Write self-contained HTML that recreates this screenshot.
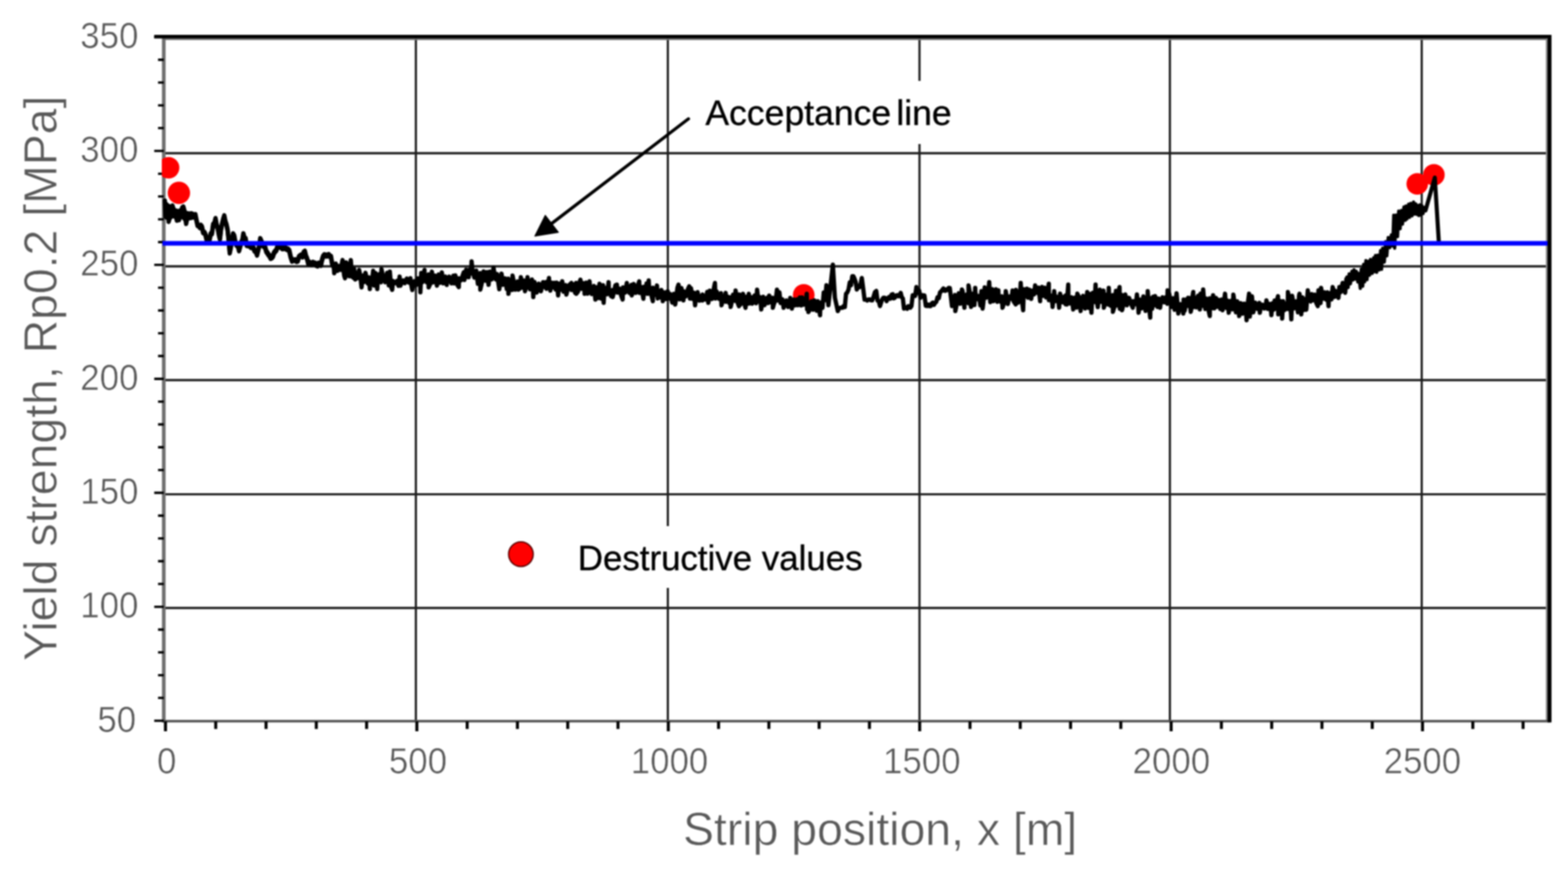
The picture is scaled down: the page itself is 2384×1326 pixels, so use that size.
<!DOCTYPE html>
<html><head><meta charset="utf-8"><title>Yield strength vs strip position</title>
<style>html,body{margin:0;padding:0;background:#fff;}svg{display:block;}svg{filter:blur(0.9px);}</style></head><body>
<svg width="2384" height="1326" viewBox="0 0 2384 1326">
<rect x="0" y="0" width="2384" height="1326" fill="#fff"/>
<defs><clipPath id="pa"><rect x="246" y="54" width="2110" height="1044"/></clipPath></defs>
<path d="M249 233.0H2355 M249 405.0H2355 M249 578.0H2355 M249 751.6H2355 M249 924.5H2355 M632.3 56V1096 M1015.4 56V1096 M1398.0 56V1096 M1778.7 56V1096 M2161.6 56V1096" stroke="#1c1c1c" stroke-width="3.3" fill="none"/>
<rect x="1060" y="123" width="400" height="96" fill="#fff"/>
<rect x="860" y="800" width="460" height="94" fill="#fff"/>
<path d="M2351.8 59.6V1096.6" stroke="#8a8a8a" stroke-width="3" fill="none"/>
<path d="M249 59.6H2352" stroke="#7a7a7a" stroke-width="2.6" fill="none"/>
<path d="M249 56V1098.4" stroke="#6e6e6e" stroke-width="5.5" fill="none"/>
<path d="M246.5 1096.6H2357" stroke="#505050" stroke-width="3.6" fill="none"/>
<path d="M234.5 1096.0H249 M240.3 1061.3H249 M240.3 1026.7H249 M240.3 992.0H249 M240.3 957.4H249 M234.5 922.7H249 M240.3 888.0H249 M240.3 853.4H249 M240.3 818.7H249 M240.3 784.1H249 M234.5 749.4H249 M240.3 714.7H249 M240.3 680.1H249 M240.3 645.4H249 M240.3 610.8H249 M234.5 576.1H249 M240.3 541.4H249 M240.3 506.8H249 M240.3 472.1H249 M240.3 437.5H249 M234.5 402.8H249 M240.3 368.1H249 M240.3 333.5H249 M240.3 298.8H249 M240.3 264.2H249 M234.5 229.5H249 M240.3 194.8H249 M240.3 160.2H249 M240.3 125.5H249 M240.3 90.9H249 M234.5 56.2H249" stroke="#000" stroke-width="3.6" fill="none"/>
<path d="M251.6 1097V1112 M328.0 1097V1108.6 M404.5 1097V1108.6 M480.9 1097V1108.6 M557.4 1097V1108.6 M633.8 1097V1112 M710.3 1097V1108.6 M786.7 1097V1108.6 M863.2 1097V1108.6 M939.6 1097V1108.6 M1016.1 1097V1112 M1092.5 1097V1108.6 M1169.0 1097V1108.6 M1245.4 1097V1108.6 M1321.9 1097V1108.6 M1398.3 1097V1112 M1474.8 1097V1108.6 M1551.2 1097V1108.6 M1627.7 1097V1108.6 M1704.1 1097V1108.6 M1780.6 1097V1112 M1857.0 1097V1108.6 M1933.5 1097V1108.6 M2009.9 1097V1108.6 M2086.4 1097V1108.6 M2162.8 1097V1112 M2239.3 1097V1108.6 M2315.7 1097V1108.6" stroke="#000" stroke-width="4.6" fill="none"/>
<path d="M234.5 55.8H2355.9" stroke="#000" stroke-width="5.6" fill="none"/>
<path d="M2355.9 53V1098.6" stroke="#000" stroke-width="6" fill="none"/>
<g fill="#ff0000" clip-path="url(#pa)"><circle cx="256.4" cy="255.1" r="16.3"/><circle cx="272" cy="293.2" r="17"/><circle cx="1222" cy="448.5" r="16.5"/><circle cx="2154.8" cy="279.6" r="16.4"/><circle cx="2180.1" cy="265.9" r="16.4"/></g>
<polyline points="250.6,304.9 251.5,329.8 253.1,330.8 254.8,331.8 256.4,334.8 258.3,328.7 260.3,316.0 262.2,312.4 263.9,317.9 265.5,321.6 267.2,324.1 268.9,333.1 270.5,332.7 272.2,332.3 273.9,324.1 275.5,322.6 277.1,315.2 278.8,314.0 280.9,322.1 283.0,338.1 285.5,324.8 287.2,324.7 288.8,325.9 290.5,324.2 292.1,324.6 293.8,325.8 295.4,326.8 297.1,325.7 298.8,334.1 300.4,341.4 302.0,341.7 303.7,344.2 305.4,341.8 307.0,343.9 308.9,352.2 310.8,352.4 312.6,356.4 314.5,364.6 316.6,362.7 318.6,363.0 320.4,354.4 322.2,354.1 324.1,340.3 325.9,338.8 327.7,331.5 329.4,340.8 331.0,345.3 332.7,355.0 334.4,362.1 336.0,347.8 337.7,339.0 339.4,332.2 341.0,327.3 342.7,335.8 344.3,340.5 346.0,348.0 347.6,363.1 349.3,382.9 351.0,374.4 352.6,363.6 354.3,354.7 356.1,357.7 357.9,367.6 359.8,371.6 361.6,372.1 363.4,379.6 365.0,374.1 366.7,367.4 368.4,364.6 370.0,354.7 371.7,360.8 373.4,361.8 375.0,371.4 376.7,372.1 378.4,371.5 380.0,373.1 381.6,374.8 383.3,374.6 385.2,375.5 387.1,380.3 388.9,380.6 390.8,386.2 392.4,379.8 394.1,372.7 395.7,362.1 397.6,366.4 399.6,372.0 401.5,373.7 403.2,375.2 404.8,381.0 406.5,383.2 408.2,386.0 409.8,387.9 411.5,391.2 413.1,390.5 414.8,388.6 416.5,383.6 418.1,381.2 420.1,379.2 422.0,373.5 424.0,372.9 425.7,374.3 427.4,374.7 429.1,376.6 430.9,376.6 432.6,375.1 434.3,376.1 436.0,377.8 437.7,377.8 439.8,380.0 441.9,389.2 444.0,395.4 445.8,394.6 447.5,394.5 449.3,394.3 451.0,396.0 452.8,395.4 454.6,389.2 456.4,387.8 458.1,386.8 459.9,389.0 461.7,382.8 463.5,381.3 465.2,388.3 467.0,392.5 468.7,399.4 470.5,398.0 472.2,399.8 474.0,400.4 475.8,398.1 477.5,399.1 479.2,399.2 481.0,402.0 482.8,402.7 484.5,399.3 486.2,399.8 488.0,401.7 489.7,393.6 491.4,388.6 493.1,386.6 494.8,387.0 496.5,387.8 498.1,386.9 499.8,386.3 501.5,388.4 503.2,389.1 505.0,399.9 507.6,407.6 508.2,415.6 510.5,400.7 513.2,411.9 514.9,404.5 517.9,410.4 520.8,395.4 521.0,400.9 523.3,419.2 524.6,423.1 526.1,399.0 527.7,418.3 529.5,401.3 531.1,420.1 532.9,399.3 533.4,395.4 535.2,420.7 538.4,423.1 538.4,408.9 540.2,425.0 542.4,414.8 544.2,422.9 546.0,410.5 547.6,418.2 549.7,437.0 550.1,433.9 551.8,419.1 553.8,428.8 554.8,418.1 555.7,414.9 559.1,431.1 560.9,421.7 562.3,439.5 562.4,432.9 565.9,424.0 567.4,411.8 568.8,434.3 571.0,415.2 573.6,439.5 574.0,431.7 577.1,416.6 579.1,429.3 580.0,409.3 582.5,420.6 585.6,429.2 588.6,414.9 591.1,433.9 592.7,413.0 594.8,436.9 596.3,440.7 597.6,427.3 600.0,430.9 603.5,427.3 605.7,434.6 607.6,420.6 607.7,423.5 608.9,434.4 609.6,432.5 612.9,426.4 615.4,430.6 618.5,423.5 621.3,429.6 624.0,423.1 624.4,428.6 626.8,441.0 629.9,427.6 633.0,433.4 635.3,423.2 638.7,430.8 639.1,444.5 640.5,415.0 642.3,429.2 645.4,410.5 645.4,416.3 648.6,429.1 651.4,417.2 651.7,437.0 654.0,432.1 655.5,421.4 656.7,413.1 658.3,429.6 661.7,419.0 664.3,434.4 664.9,427.8 666.9,417.4 668.9,430.1 671.6,418.0 671.8,414.3 674.0,430.9 677.3,420.5 679.3,433.2 679.7,428.5 683.0,420.7 686.3,430.8 688.9,423.5 689.4,419.3 690.4,431.1 692.3,418.7 695.4,433.4 697.6,436.6 697.8,423.2 700.5,426.5 703.0,420.1 705.1,414.0 706.1,425.8 708.7,410.1 710.7,421.1 712.6,421.5 713.3,410.2 716.3,415.5 717.0,397.6 718.7,413.2 721.2,422.2 724.1,411.5 726.6,431.5 730.0,415.2 730.3,440.4 733.3,427.2 735.3,419.3 735.3,412.7 738.7,426.9 740.4,413.8 742.8,433.1 742.9,432.8 744.8,412.9 747.6,424.9 750.4,407.0 750.9,411.0 753.9,424.9 755.7,416.7 759.1,439.7 762.5,416.1 765.0,433.0 768.1,423.4 770.5,439.4 772.7,423.7 773.0,446.7 774.8,435.5 776.4,425.8 778.7,440.9 779.3,419.0 780.9,427.2 783.4,440.5 786.9,428.1 788.2,440.4 790.3,438.8 791.9,421.5 792.4,424.0 795.4,437.8 797.2,426.6 798.2,442.9 800.5,435.3 802.0,421.5 802.5,425.5 805.9,440.0 808.8,425.0 810.4,439.1 810.8,451.7 812.7,428.8 816.1,444.9 819.2,431.3 822.4,442.9 825.6,429.2 825.9,429.1 827.8,435.5 830.9,439.1 831.2,428.5 832.9,435.6 834.7,422.8 834.9,428.5 836.7,441.9 838.6,429.7 840.8,436.9 842.8,430.2 844.7,440.1 846.2,429.7 847.8,440.9 848.6,449.2 850.4,431.3 852.8,440.5 854.5,435.2 854.8,427.8 856.9,443.5 860.1,433.5 861.1,448.0 862.6,442.0 866.0,432.9 868.7,430.3 869.2,441.1 872.0,432.3 874.2,444.9 875.9,430.3 876.2,446.7 878.9,443.2 880.7,430.4 882.5,425.3 883.9,439.2 886.8,430.5 888.7,442.7 888.8,446.7 891.2,429.7 893.5,446.5 896.4,427.8 897.0,437.2 899.6,447.2 903.0,434.9 905.2,455.5 905.2,454.9 907.5,436.8 910.0,453.2 911.5,431.6 912.5,433.4 914.5,454.2 916.8,433.7 917.8,460.5 918.4,450.4 920.3,437.7 922.9,447.5 925.3,429.1 925.7,439.1 929.0,450.4 931.1,441.1 931.6,451.7 932.9,446.2 935.7,433.7 937.9,432.8 938.9,445.0 941.6,438.8 944.7,450.3 946.7,455.5 947.3,437.0 950.5,445.0 953.0,430.3 953.6,436.6 956.9,445.4 959.8,433.2 960.5,449.2 961.4,446.2 963.6,431.9 966.7,445.4 969.5,434.9 971.9,427.8 972.4,445.4 973.9,435.8 976.9,447.2 978.2,454.2 979.4,436.1 981.1,446.5 983.1,431.0 985.1,446.8 986.3,426.6 987.0,438.9 990.5,449.5 992.6,458.0 992.7,437.4 995.6,448.6 998.3,438.7 998.9,434.1 1000.0,453.7 1002.0,445.0 1004.1,452.5 1005.6,441.0 1007.7,451.9 1007.7,458.0 1010.5,444.6 1012.6,454.7 1015.1,447.3 1015.2,442.9 1016.8,453.8 1018.7,447.0 1022.1,460.1 1024.5,446.8 1026.6,463.0 1027.9,454.5 1030.0,437.5 1031.6,432.8 1033.4,455.2 1036.0,438.0 1038.6,449.7 1039.1,456.8 1040.3,443.3 1042.8,450.6 1045.8,439.9 1047.9,435.4 1049.0,454.1 1050.6,438.2 1053.1,454.4 1055.2,445.1 1056.8,464.3 1057.4,459.7 1060.6,444.2 1063.6,457.2 1065.3,453.6 1068.1,448.0 1068.2,456.9 1070.3,451.2 1072.6,455.4 1075.3,443.8 1076.9,460.5 1077.6,456.4 1079.2,442.1 1082.4,454.6 1085.8,436.2 1087.0,430.3 1087.8,453.9 1089.7,443.3 1093.1,454.4 1096.2,445.8 1097.0,464.3 1099.5,454.7 1102.1,452.0 1103.3,445.4 1103.7,458.9 1106.1,450.9 1108.9,461.2 1110.5,452.1 1110.9,466.8 1112.3,460.5 1114.5,448.1 1117.4,457.3 1118.4,441.7 1119.5,450.9 1121.6,460.5 1123.5,465.6 1123.8,447.8 1125.7,463.4 1129.0,451.9 1129.7,446.7 1130.9,458.4 1133.5,468.1 1134.4,451.3 1136.2,462.4 1137.9,450.6 1138.5,446.7 1139.6,461.6 1141.6,451.8 1143.6,461.8 1144.8,459.9 1147.2,449.3 1149.7,461.1 1151.1,440.4 1151.9,446.5 1154.0,458.4 1155.7,451.8 1157.4,470.6 1158.5,461.8 1160.4,451.3 1162.4,464.1 1164.8,455.7 1166.2,453.0 1168.0,460.9 1169.5,449.4 1172.4,460.0 1174.9,452.8 1175.0,468.1 1176.4,463.2 1179.7,454.4 1181.3,440.4 1183.0,457.0 1185.0,444.4 1186.8,460.7 1189.6,455.1 1191.4,468.1 1192.6,462.0 1195.6,456.9 1198.2,466.8 1201.3,455.8 1201.5,453.0 1204.0,469.3 1204.6,463.9 1206.7,455.4 1208.7,464.4 1211.6,455.3 1213.3,464.1 1215.9,452.4 1217.9,464.5 1219.4,452.3 1221.8,463.4 1224.6,460.2 1226.6,446.7 1227.1,470.3 1229.0,460.8 1229.1,474.4 1232.0,469.8 1233.5,458.3 1236.3,471.0 1238.0,456.8 1238.4,459.6 1241.7,472.5 1243.3,458.1 1245.6,470.9 1246.8,479.4 1247.5,459.9 1250.5,468.2 1252.4,444.7 1253.1,448.0 1254.5,456.5 1256.5,433.8 1259.5,464.1 1266.3,402.6 1269.4,452.9 1271.6,462.9 1273.8,473.0 1275.6,469.3 1277.3,468.0 1279.1,467.9 1280.8,468.1 1282.6,465.4 1284.5,466.9 1286.3,446.7 1288.2,444.7 1290.1,440.3 1292.0,429.4 1293.9,433.7 1295.8,420.1 1297.5,420.0 1299.2,423.7 1301.0,428.9 1302.7,440.3 1304.6,434.5 1306.5,436.7 1308.4,432.1 1310.3,422.7 1312.4,438.7 1314.5,455.5 1316.6,455.4 1318.5,457.0 1320.3,455.5 1322.2,455.3 1324.1,456.6 1326.2,456.7 1328.3,450.7 1330.4,444.0 1332.3,442.5 1334.2,457.2 1336.1,458.2 1338.0,465.4 1339.7,459.9 1341.3,455.3 1343.0,452.8 1344.7,452.7 1346.3,453.5 1348.0,457.9 1349.9,453.5 1351.8,451.6 1353.7,454.2 1355.6,447.8 1357.3,447.4 1358.9,453.6 1360.6,452.8 1362.4,449.3 1364.1,448.8 1365.9,450.5 1367.6,449.0 1369.4,445.3 1371.1,452.1 1372.7,453.7 1374.4,469.2 1376.0,468.5 1377.7,467.5 1379.3,469.5 1380.9,465.6 1382.5,465.9 1384.2,467.8 1385.8,465.4 1387.7,448.9 1389.5,449.2 1391.4,449.9 1393.3,436.5 1395.4,445.2 1397.5,441.8 1399.6,452.8 1401.5,448.8 1403.4,449.1 1405.5,449.2 1407.6,465.1 1409.7,465.4 1411.4,463.1 1413.2,465.4 1414.9,465.5 1416.6,461.3 1418.3,460.1 1420.0,463.5 1421.8,460.6 1423.5,459.1 1425.4,452.1 1427.3,453.6 1429.2,444.6 1431.1,442.8 1432.7,440.9 1434.3,438.7 1435.9,442.0 1437.6,442.2 1439.2,440.0 1440.8,440.9 1442.4,437.8 1444.1,438.0 1445.7,451.2 1447.4,465.4 1452.0,448.6 1452.5,473.0 1455.4,458.5 1457.7,445.9 1460.0,461.9 1462.5,440.3 1463.4,442.2 1466.3,468.0 1466.5,457.3 1469.7,447.9 1472.4,461.2 1472.6,434.0 1474.5,444.3 1476.4,466.7 1477.6,463.1 1479.5,446.5 1481.5,463.8 1482.7,437.8 1483.0,444.7 1485.2,455.0 1488.4,450.1 1490.5,464.4 1492.2,442.7 1494.0,469.2 1495.1,460.4 1497.1,437.0 1499.8,452.7 1502.8,441.5 1504.0,428.9 1505.6,459.4 1508.8,439.7 1510.3,457.9 1511.4,456.8 1514.4,439.9 1516.4,459.0 1517.9,441.5 1518.2,450.0 1520.9,458.6 1523.2,450.6 1524.2,468.0 1525.7,463.4 1528.8,450.1 1529.2,442.8 1532.3,462.3 1534.7,450.9 1537.9,454.3 1539.5,441.7 1541.2,458.5 1544.3,462.9 1544.7,440.8 1548.0,460.3 1551.3,442.5 1551.9,430.2 1553.3,453.6 1555.6,471.7 1556.7,439.7 1559.4,450.5 1561.3,439.0 1561.9,441.5 1563.1,452.7 1565.0,441.5 1565.1,440.6 1567.9,454.5 1569.4,441.9 1572.3,447.7 1573.8,434.0 1574.4,439.8 1577.5,445.4 1579.1,437.4 1581.4,457.9 1581.4,451.0 1584.2,436.2 1586.0,449.9 1588.3,437.5 1590.5,452.3 1592.6,444.2 1594.6,431.5 1594.8,456.4 1598.0,449.5 1600.2,463.2 1600.3,466.7 1602.8,442.8 1603.2,447.0 1604.7,458.0 1607.1,451.3 1609.4,459.6 1610.3,468.0 1611.8,446.6 1612.9,452.8 1613.3,460.1 1616.1,451.5 1617.8,460.5 1620.0,449.3 1620.4,462.9 1621.8,463.1 1624.2,432.7 1624.4,454.4 1626.1,461.5 1629.2,452.0 1631.1,465.9 1631.7,470.5 1634.5,452.6 1636.9,467.7 1638.0,446.6 1640.3,451.3 1643.0,473.0 1643.6,463.9 1646.7,449.9 1649.8,469.1 1652.1,451.4 1653.1,444.0 1655.3,468.3 1657.2,446.9 1659.4,475.5 1659.8,467.1 1661.5,445.2 1664.5,459.1 1665.7,432.7 1666.0,447.7 1669.1,467.0 1672.2,440.6 1674.9,459.0 1677.7,441.9 1678.3,468.0 1680.0,461.6 1682.4,448.0 1684.8,463.1 1685.8,437.8 1686.3,447.6 1688.8,465.0 1691.8,448.8 1692.1,474.2 1694.2,467.1 1696.7,442.2 1698.4,464.4 1700.1,445.3 1702.2,436.5 1702.6,469.5 1705.4,448.5 1706.0,471.7 1708.4,461.2 1710.9,447.8 1713.4,464.2 1716.0,452.8 1716.8,453.2 1720.0,463.0 1722.3,468.0 1723.0,457.9 1724.9,463.1 1727.4,458.8 1728.6,447.8 1730.7,467.9 1731.1,475.5 1733.8,455.6 1735.4,469.0 1738.4,450.7 1741.7,472.7 1744.8,451.6 1745.0,442.8 1747.3,468.9 1748.8,483.0 1749.3,453.4 1751.8,469.5 1753.3,451.3 1755.2,464.2 1756.3,450.3 1758.0,457.5 1759.9,466.8 1761.6,453.9 1763.9,468.0 1764.4,463.2 1767.6,452.0 1770.3,459.7 1772.0,452.3 1774.7,462.0 1775.2,441.5 1777.8,447.4 1781.3,466.8 1783.5,453.5 1785.9,471.0 1788.9,445.9 1791.5,476.8 1792.1,471.4 1794.8,462.5 1797.5,469.4 1799.1,476.8 1799.6,455.5 1801.2,472.4 1803.9,455.2 1806.5,465.2 1806.6,452.8 1808.2,453.2 1810.4,474.2 1811.0,471.2 1812.5,454.0 1814.2,444.0 1814.2,467.1 1816.2,452.1 1818.9,467.5 1821.6,449.8 1823.4,460.5 1824.2,470.5 1825.4,446.5 1827.1,465.4 1829.3,440.3 1830.3,452.4 1832.6,469.7 1834.1,454.0 1836.8,468.9 1839.4,480.5 1839.5,453.4 1842.9,468.7 1844.4,449.1 1844.9,459.4 1846.5,468.9 1848.8,453.0 1850.4,466.4 1852.0,455.6 1855.3,469.8 1857.2,455.4 1858.8,471.8 1859.8,465.5 1862.6,446.6 1862.9,451.5 1865.0,468.4 1866.6,457.2 1868.2,475.6 1869.7,465.1 1871.2,457.6 1874.2,470.4 1875.2,447.9 1877.2,461.0 1879.1,474.9 1881.1,458.2 1883.2,474.3 1884.0,480.6 1886.1,460.9 1889.0,463.0 1889.1,476.9 1891.7,461.8 1894.7,476.0 1895.3,486.9 1896.8,463.6 1899.1,446.6 1900.2,481.3 1903.5,450.6 1905.5,475.0 1908.5,460.2 1911.5,469.6 1914.7,460.6 1915.4,475.6 1916.7,468.4 1919.5,463.3 1922.3,469.1 1924.7,464.2 1925.5,456.7 1927.6,469.8 1930.0,462.0 1932.6,474.1 1933.0,479.3 1934.6,461.2 1936.2,471.0 1938.0,456.9 1939.7,469.6 1941.9,455.2 1943.1,450.4 1943.5,478.0 1946.4,457.6 1949.2,472.1 1949.4,484.4 1950.9,458.1 1953.1,471.6 1956.2,461.5 1957.9,469.9 1958.2,444.1 1961.2,460.2 1962.9,478.2 1963.3,485.6 1964.6,449.7 1967.8,468.9 1970.6,458.4 1973.4,474.9 1975.1,449.4 1975.8,446.6 1978.1,472.3 1978.4,478.1 1980.2,452.2 1981.8,471.7 1983.8,455.1 1986.1,471.1 1988.4,441.6 1989.5,453.0 1992.7,458.4 1994.3,447.2 1996.6,456.7 1998.8,448.0 2001.4,461.0 2003.5,465.5 2004.6,441.6 2007.8,461.0 2008.6,437.8 2009.3,442.5 2012.3,454.1 2013.8,444.5 2016.3,455.6 2018.2,444.5 2019.9,465.5 2020.3,455.3 2022.4,445.8 2024.4,455.3 2026.2,436.6 2027.3,440.1 2029.1,451.5 2030.7,442.4 2033.6,450.3 2035.0,452.9 2036.4,436.4 2038.7,444.1 2041.3,430.3 2041.9,432.6 2045.2,445.3 2047.1,424.3" fill="none" stroke="#000" stroke-width="6.5" stroke-linejoin="round" stroke-linecap="round"/>
<polygon points="250.6,305.0 256.4,310.7 260.6,312.4 263.9,313.2 266.4,317.4 271.4,319.0 277.2,314.9 280.5,314.9 283.0,321.5 290.4,323.2 298.7,324.0 298.7,333.1 293.8,333.1 285.5,334.8 283.0,338.9 280.5,336.4 277.2,332.3 272.2,333.1 268.9,334.0 263.1,330.6 257.3,334.8 252.3,331.5 250.6,331.5" fill="#000" stroke="#000" stroke-width="2" stroke-linejoin="round"/>
<polyline points="256.4,337.3 258.3,331.2 260.3,318.5 262.2,314.9 263.9,320.4 265.5,324.1 267.2,326.6 268.9,335.6 270.5,335.2 272.2,334.8 273.9,326.6 275.5,325.1 277.1,317.7 278.8,316.5 280.9,324.6 283.0,340.6 285.5,327.3 287.2,327.2 288.8,328.4 290.5,326.7 292.1,327.1 293.8,328.3 295.4,329.3 297.1,328.2 298.8,336.6 300.4,343.9 302.0,344.2 303.7,346.7 305.4,344.3 307.0,346.4 308.9,354.7 310.8,354.9 312.6,358.9 314.5,367.1 316.6,365.2 318.6,365.5 320.4,356.9 322.2,356.6 324.1,342.8 325.9,341.3 327.7,334.0 329.4,343.3 331.0,347.8 332.7,357.5 334.4,364.6 336.0,350.3 337.7,341.5 339.4,334.7 341.0,329.8 342.7,338.3 344.3,343.0 346.0,350.5 347.6,365.6 349.3,385.4 351.0,376.9 352.6,366.1 354.3,357.2 356.1,360.2 357.9,370.1 359.8,374.1 361.6,374.6 363.4,382.1 365.0,376.6 366.7,369.9 368.4,367.1 370.0,357.2 371.7,363.3 373.4,364.3 375.0,373.9 376.7,374.6 378.4,374.0 380.0,375.6 381.6,377.3 383.3,377.1 385.2,378.0 387.1,382.8 388.9,383.1 390.8,388.7 392.4,382.3 394.1,375.2 395.7,364.6 397.6,368.9 399.6,374.5 401.5,376.2 403.2,377.7 404.8,383.5 406.5,385.7 408.2,388.5 409.8,390.4 411.5,393.7 413.1,393.0 414.8,391.1 416.5,386.1 418.1,383.7 420.1,381.7 422.0,376.0 424.0,375.4 425.7,376.8 427.4,377.2 429.1,379.1 430.9,379.1 432.6,377.6 434.3,378.6 436.0,380.3 437.7,380.3 439.8,382.5 441.9,391.7 444.0,397.9 445.8,397.1 447.5,397.0 449.3,396.8 451.0,398.5 452.8,397.9 454.6,391.7 456.4,390.3 458.1,389.3 459.9,391.5 461.7,385.3 463.5,383.8 465.2,390.8 467.0,395.0 468.7,401.9 470.5,400.5 472.2,402.3 474.0,402.9 475.8,400.6 477.5,401.6 479.2,401.7 481.0,404.5 482.8,405.2 484.5,401.8 486.2,402.3 488.0,404.2 489.7,396.1 491.4,391.1 493.1,389.1 494.8,389.5 496.5,390.3 498.1,389.4 499.8,388.8 501.5,390.9 503.2,391.6 505.0,402.4" fill="none" stroke="#000" stroke-width="6.5" stroke-linejoin="round" stroke-linecap="round"/>
<polyline points="2048.0,421.3 2049.7,437.3 2051.3,416.4 2053.2,431.5 2055.5,412.6 2057.1,425.8 2058.6,410.2 2060.7,424.3 2062.1,412.4 2064.4,428.7 2065.8,415.7 2068.2,438.5 2069.7,409.2 2071.9,435.2 2073.3,401.9 2074.8,428.5 2076.8,396.2 2078.4,425.3 2081.0,397.2 2082.3,418.4 2083.7,394.6 2086.3,415.8 2088.5,392.0 2090.0,413.0 2091.3,388.6 2093.1,414.0 2094.8,388.1 2097.0,410.4 2099.1,381.0 2100.5,409.5 2102.2,377.5 2104.7,398.6 2106.7,367.6 2108.5,389.0 2110.7,361.2 2113.0,376.6 2115.4,357.3 2117.5,373.9 2119.1,327.2 2120.5,377.4 2122.8,326.9 2124.8,359.8 2126.6,321.0 2128.7,347.8 2130.8,319.9 2132.3,340.8 2134.6,314.8 2136.5,335.1 2137.7,313.3 2139.2,333.0 2141.7,310.6 2143.0,330.4 2145.0,309.3 2146.9,328.2 2149.2,307.3 2151.0,325.5 2152.5,310.1 2154.3,325.9 2155.6,312.6 2157.3,327.8 2158.9,311.6 2160.1,326.9 2161.9,312.8 2163.6,324.8 2165.1,315.4 2167.4,320.0" fill="none" stroke="#000" stroke-width="5" stroke-linejoin="round" stroke-linecap="round"/>
<polygon points="2048.0,423.6 2050.0,423.7 2052.0,420.2 2054.0,417.9 2056.0,415.6 2058.0,413.3 2060.0,412.9 2062.0,415.9 2064.0,418.8 2066.0,419.1 2068.0,418.8 2070.0,418.5 2072.0,414.0 2074.0,409.6 2076.0,405.7 2078.0,404.3 2080.0,403.2 2082.0,402.1 2084.0,401.1 2086.0,400.0 2088.0,398.5 2090.0,396.7 2092.0,395.1 2094.0,393.7 2096.0,392.2 2098.0,390.0 2100.0,387.1 2102.0,386.2 2104.0,379.8 2106.0,374.7 2108.0,370.4 2110.0,366.3 2112.0,363.7 2114.0,362.4 2116.0,361.4 2118.0,338.6 2120.0,338.9 2122.0,339.2 2124.0,334.6 2126.0,330.0 2128.0,327.6 2130.0,325.2 2132.0,323.5 2134.0,321.9 2136.0,320.3 2138.0,318.7 2140.0,317.1 2142.0,315.6 2144.0,314.4 2146.0,313.3 2148.0,312.1 2150.0,312.7 2152.0,313.6 2154.0,314.7 2156.0,315.2 2158.0,315.5 2160.0,315.7 2162.0,315.7 2164.0,315.9 2166.0,317.8 2166.0,321.0 2164.0,321.3 2162.0,322.4 2160.0,323.0 2158.0,322.9 2156.0,322.8 2154.0,322.6 2152.0,322.1 2150.0,322.3 2148.0,322.6 2146.0,323.7 2144.0,324.8 2142.0,325.8 2140.0,327.7 2138.0,329.6 2136.0,331.6 2134.0,333.5 2132.0,335.5 2130.0,337.7 2128.0,341.6 2126.0,345.4 2124.0,355.1 2122.0,364.8 2120.0,363.0 2118.0,361.1 2116.0,371.2 2114.0,372.0 2112.0,373.3 2110.0,377.7 2108.0,382.7 2106.0,387.8 2104.0,394.5 2102.0,404.3 2100.0,401.3 2098.0,403.0 2096.0,404.4 2094.0,405.4 2092.0,406.5 2090.0,407.8 2088.0,409.6 2086.0,411.3 2084.0,412.8 2082.0,414.3 2080.0,415.8 2078.0,417.3 2076.0,419.0 2074.0,423.1 2072.0,428.8 2070.0,434.4 2068.0,430.5 2066.0,426.5 2064.0,425.2 2062.0,422.8 2060.0,420.4 2058.0,420.3 2056.0,423.4 2054.0,426.5 2052.0,429.6 2050.0,433.2 2048.0,428.4" fill="#000"/>
<polyline points="2167.4,320.0 2181.5,270.1 2187.5,366.3" fill="none" stroke="#000" stroke-width="6.2" stroke-linejoin="round" stroke-linecap="round"/>
<path d="M247 370.1H2353" stroke="#0000ff" stroke-width="7" fill="none"/>
<text transform="translate(207 1112.5) scale(0.955 1)" font-family='"Liberation Sans", Arial, sans-serif' font-size="55.5" fill="#595959" stroke="#fff" stroke-width="0.7" text-anchor="end">50</text>
<text transform="translate(210.5 939.2) scale(0.955 1)" font-family='"Liberation Sans", Arial, sans-serif' font-size="55.5" fill="#595959" stroke="#fff" stroke-width="0.7" text-anchor="end">100</text>
<text transform="translate(210.5 765.9) scale(0.955 1)" font-family='"Liberation Sans", Arial, sans-serif' font-size="55.5" fill="#595959" stroke="#fff" stroke-width="0.7" text-anchor="end">150</text>
<text transform="translate(210.5 592.6) scale(0.955 1)" font-family='"Liberation Sans", Arial, sans-serif' font-size="55.5" fill="#595959" stroke="#fff" stroke-width="0.7" text-anchor="end">200</text>
<text transform="translate(210.5 419.3) scale(0.955 1)" font-family='"Liberation Sans", Arial, sans-serif' font-size="55.5" fill="#595959" stroke="#fff" stroke-width="0.7" text-anchor="end">250</text>
<text transform="translate(210.5 246.0) scale(0.955 1)" font-family='"Liberation Sans", Arial, sans-serif' font-size="55.5" fill="#595959" stroke="#fff" stroke-width="0.7" text-anchor="end">300</text>
<text transform="translate(210.5 72.7) scale(0.955 1)" font-family='"Liberation Sans", Arial, sans-serif' font-size="55.5" fill="#595959" stroke="#fff" stroke-width="0.7" text-anchor="end">350</text>
<text transform="translate(253.4 1176.3) scale(0.955 1)" font-family='"Liberation Sans", Arial, sans-serif' font-size="55.5" fill="#595959" stroke="#fff" stroke-width="0.7" text-anchor="middle">0</text>
<text transform="translate(635.5 1176.3) scale(0.955 1)" font-family='"Liberation Sans", Arial, sans-serif' font-size="55.5" fill="#595959" stroke="#fff" stroke-width="0.7" text-anchor="middle">500</text>
<text transform="translate(1017.9 1176.3) scale(0.955 1)" font-family='"Liberation Sans", Arial, sans-serif' font-size="55.5" fill="#595959" stroke="#fff" stroke-width="0.7" text-anchor="middle">1000</text>
<text transform="translate(1401.5 1176.3) scale(0.955 1)" font-family='"Liberation Sans", Arial, sans-serif' font-size="55.5" fill="#595959" stroke="#fff" stroke-width="0.7" text-anchor="middle">1500</text>
<text transform="translate(1781.0 1176.3) scale(0.955 1)" font-family='"Liberation Sans", Arial, sans-serif' font-size="55.5" fill="#595959" stroke="#fff" stroke-width="0.7" text-anchor="middle">2000</text>
<text transform="translate(2162.6 1176.3) scale(0.955 1)" font-family='"Liberation Sans", Arial, sans-serif' font-size="55.5" fill="#595959" stroke="#fff" stroke-width="0.7" text-anchor="middle">2500</text>
<text x="1038.5" y="1285.2" font-family='"Liberation Sans", Arial, sans-serif' font-size="70.5" fill="#595959" stroke="#fff" stroke-width="0.7">Strip position, x [m]</text>
<text transform="translate(85.6 1005) rotate(-90)" x="0" y="0" font-family='"Liberation Sans", Arial, sans-serif' font-size="70.5" fill="#595959" stroke="#fff" stroke-width="0.7">Yield strength, Rp0.2 [MPa]</text>
<text x="1072.6" y="189.5" font-family='"Liberation Sans", Arial, sans-serif' font-size="54" fill="#000" stroke="#000" stroke-width="0.5" word-spacing="-7">Acceptance line</text>
<path d="M1046.8 180.7L836 342" stroke="#000" stroke-width="4.8" stroke-linecap="round" fill="none"/>
<path d="M813.2 359L829 327.5L848.9 353.2Z" fill="#000" stroke="#000" stroke-width="1.5" stroke-linejoin="round"/>
<circle cx="792" cy="842.8" r="18.7" fill="#ff0000" stroke="#5a0000" stroke-width="2"/>
<text x="878.5" y="867.2" font-family='"Liberation Sans", Arial, sans-serif' font-size="53" fill="#000" stroke="#000" stroke-width="0.5">Destructive values</text>
</svg></body></html>
